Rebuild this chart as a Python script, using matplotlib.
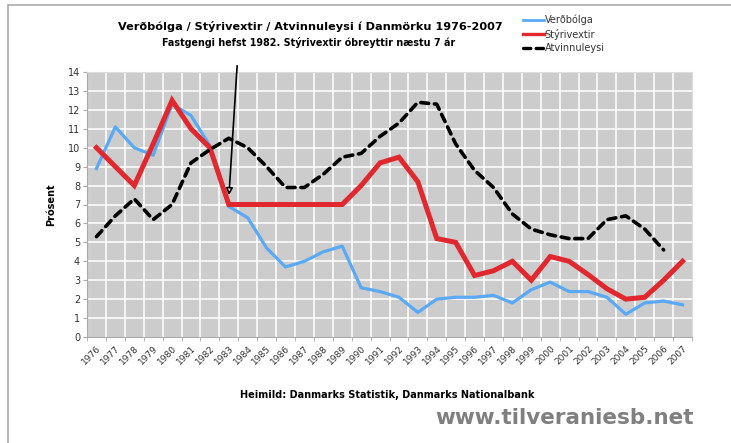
import numpy as np
import matplotlib.pyplot as plt
from matplotlib.patches import Rectangle

# Gögn lesin af myndinni
years = list(range(1976, 2008))
verdbolga = [8.9, 11.1, 10.0, 9.6, 12.3, 11.7, 10.1, 6.9, 6.3, 4.7,
             3.7, 4.0, 4.5, 4.8, 2.6, 2.4, 2.1, 1.3, 2.0, 2.1,
             2.1, 2.2, 1.8, 2.5, 2.9, 2.4, 2.4, 2.1, 1.2, 1.8,
             1.9, 1.7]
styrivextir = [10.0, 9.0, 8.0, 10.2, 12.5, 11.0, 10.0, 7.0, 7.0, 7.0,
               7.0, 7.0, 7.0, 7.0, 8.0, 9.2, 9.5, 8.2, 5.2, 5.0,
               3.25, 3.5, 4.0, 3.0, 4.25, 4.0, 3.3, 2.55, 2.0, 2.1,
               3.0, 4.0]
atvinnuleysi = [5.3, 6.4, 7.3, 6.2, 7.0, 9.2, 9.9, 10.5, 10.0, 9.0,
                7.9, 7.9, 8.6, 9.5, 9.7, 10.6, 11.3, 12.4, 12.3, 10.2,
                8.8, 7.9, 6.5, 5.7, 5.4, 5.2, 5.2, 6.2, 6.4, 5.7,
                4.6, np.nan]

title = "Verðbólga / Stýrivextir / Atvinnuleysi í Danmörku 1976-2007"
subtitle = "Fastgengi hefst 1982. Stýrivextir óbreyttir næstu 7 ár"
source = "Heimild: Danmarks Statistik, Danmarks Nationalbank"
watermark = "www.tilveraniesb.net"

plt.rcParams['font.family'] = ['DejaVu Sans']

fig = plt.figure(figsize=(7.31, 4.43), dpi=100)
ax = fig.add_axes([87 / 731, 1 - 337 / 443, 605 / 731, 265 / 443])

x = np.arange(len(years))
ax.set_facecolor('#cccccc')

ax.plot(x, verdbolga, color='#5aa9f5', lw=2.3, label='Verðbólga', zorder=3)
ax.plot(x, styrivextir, color='#e0282e', lw=3.6, label='Stýrivextir',
        solid_joinstyle='miter', zorder=4)
ax.plot(x, atvinnuleysi, color='black', lw=2.6, dashes=(2.2, 1.6),
        dash_capstyle='round', label='Atvinnuleysi', zorder=5)

ax.set_xlim(-0.5, len(years) - 0.5)
ax.set_ylim(0, 14)
ax.set_yticks(range(0, 15))
ax.set_xticks(x)
ax.set_xticklabels([str(y) for y in years], rotation=45, ha='right',
                   rotation_mode='anchor', fontsize=6.5, color='#333333')
ax.set_xticks(np.arange(-0.5, len(years)), minor=True)
ax.tick_params(axis='x', which='major', length=0, pad=5)
ax.tick_params(axis='x', which='minor', length=3, color='#aaaaaa')
ax.tick_params(axis='y', length=3, color='#aaaaaa', labelsize=7,
               labelcolor='#333333', pad=2)

ax.grid(False)
for v in np.arange(0.5, len(years) - 0.5):
    ax.axvline(v, color='white', lw=1.1, zorder=1)
for h in range(1, 14):
    ax.axhline(h, color='white', lw=1.1, zorder=1)

for side in ['top', 'right']:
    ax.spines[side].set_color('#dddddd')
for side in ['left', 'bottom']:
    ax.spines[side].set_color('#aaaaaa')

ax.set_ylabel('Prósent', fontsize=7, fontweight='bold', labelpad=8)

# Titlar
fig.text(310 / 731, 1 - 26 / 443, title, ha='center', va='center',
         fontsize=8.1, fontweight='bold')
fig.text(309 / 731, 1 - 42 / 443, subtitle, ha='center', va='center',
         fontsize=6.9, fontweight='bold')

# Ör að 1983
ax.annotate('', xy=(7, 7.35), xytext=(7.45, 14 + (72 - 63) / 18.9),
            arrowprops=dict(arrowstyle='-|>', color='black', lw=1.2,
                            mutation_scale=10, fc='white'),
            annotation_clip=False)

# Skýringar
leg = fig.legend(loc='upper left', bbox_to_anchor=(514 / 731, 1 - 6 / 443),
                 frameon=False, fontsize=7, handlelength=2.2, handletextpad=0.05,
                 labelspacing=0.35, labelcolor='#333333')
for line, w in zip(leg.get_lines(), [2.0, 2.4, 2.4]):
    line.set_linewidth(w)

fig.text(387 / 731, 1 - 395 / 443, source, ha='center', va='center',
         fontsize=7, fontweight='bold')
fig.text(564 / 731, 1 - 418 / 443, watermark, ha='center', va='center',
         fontsize=15.5, fontweight='bold', color='#808080')

# Rammi
fig.patches.append(Rectangle((8 / 731, -0.1), 1.2, 1 - 5 / 443 + 0.1,
                             transform=fig.transFigure, fill=False,
                             edgecolor='#aaaaaa', lw=1.2))

fig.savefig('out.png', dpi=100)
